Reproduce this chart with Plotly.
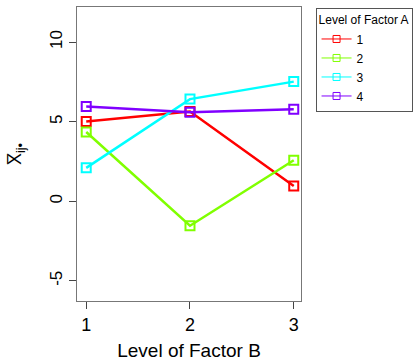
import plotly.graph_objects as go

levels_b = [1, 2, 3]
factor_a = ["1", "2", "3", "4"]
means = {
    "1": [5.02, 5.64, 0.96],
    "2": [4.35, -1.54, 2.58],
    "3": [2.10, 6.42, 7.52],
    "4": [5.96, 5.60, 5.79],
}
colors = {"1": "#FF0000", "2": "#80FF00", "3": "#00FFFF", "4": "#8000FF"}
x_ticks = [1, 2, 3]
y_ticks = [-5, 0, 5, 10]

fig = go.Figure()
for a in factor_a:
    fig.add_trace(go.Scatter(
        x=levels_b, y=means[a], name=a, mode="lines+markers", showlegend=False,
        line=dict(color=colors[a], width=2.5),
        marker=dict(symbol="square-open", size=9, color=colors[a], line=dict(width=2, color=colors[a])),
    ))
for a in factor_a:
    fig.add_trace(go.Scatter(
        x=[None], y=[None], name=a, mode="lines+markers", showlegend=True,
        line=dict(color=colors[a], width=1),
        marker=dict(symbol="square-open", size=7, color=colors[a], line=dict(width=1, color=colors[a])),
    ))

font = "Liberation Sans, Arial, sans-serif"
fig.update_layout(
    width=420, height=361,
    margin=dict(l=77, r=114, t=7, b=60),
    paper_bgcolor="white", plot_bgcolor="white",
    font=dict(family=font, color="black"),
    showlegend=True,
    legend=dict(
        x=1.065, xanchor="left", y=0.997, yanchor="top",
        bordercolor="#555555", borderwidth=1,
        font=dict(size=12, family=font),
        title=dict(text="Level of Factor A", font=dict(size=12, family=font)),
        traceorder="normal", tracegroupgap=0, itemwidth=30,
    ),
    xaxis=dict(
        range=[0.911, 3.07], tickvals=x_ticks, ticktext=[str(v) for v in x_ticks],
        showgrid=False, zeroline=False, showline=True, mirror=True,
        linecolor="#777777", linewidth=1, automargin=False,
        ticks="outside", ticklen=7, tickcolor="#444444",
        tickfont=dict(size=18),
        title=dict(text="Level of Factor B", font=dict(size=19), standoff=16),
    ),
    yaxis=dict(
        range=[-6.27, 12.21], tickvals=y_ticks, ticktext=[str(v) for v in y_ticks],
        showgrid=False, zeroline=False, showline=True, mirror=True,
        linecolor="#777777", linewidth=1, automargin=False,
        ticks="outside", ticklen=7, tickcolor="#444444",
        tickangle=-90, tickfont=dict(size=17),
        title=dict(text="X̅<sub>ij•</sub>", font=dict(size=18), standoff=20),
    ),
)
fig.write_html("out.html")
